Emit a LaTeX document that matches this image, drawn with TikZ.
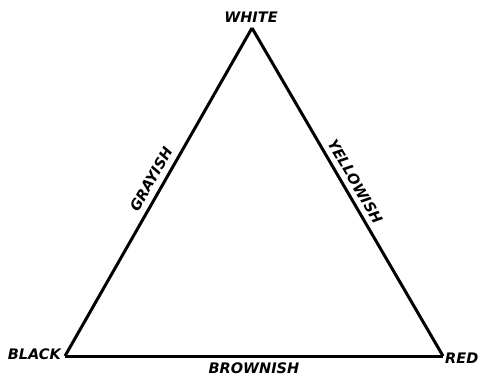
\documentclass[tikz,border=0pt]{standalone}
\usepackage{fontspec}
\setmainfont{DejaVu Sans}
\begin{document}
\begin{tikzpicture}[x=1pt,y=-1pt,
  edge/.style={line width=3pt, line join=miter},
  lbl/.style={font=\fontsize{14.5}{14.5}\selectfont\bfseries\itshape, inner sep=0pt},
  elbl/.style={lbl, sloped}]
\useasboundingbox (0,0) rectangle (486,374);
\coordinate (W) at (252,28);
\coordinate (B) at (65,356);
\coordinate (R) at (443,356);
\draw[edge] (B) -- (W) node[elbl, pos=0.52, above=5.5pt] (gray) {GRAYISH};
\draw[edge] (W) -- (R) node[elbl, pos=0.487, above=5.5pt] (yellow) {YELLOWISH};
\draw[edge] (B) -- (R) node[lbl, pos=0.5, below=5pt] (brown) {BROWNISH};
\node[lbl, anchor=base] (white) at (251,23) {WHITE};
\node[lbl, anchor=base east] (black) at (61,359) {BLACK};
\node[lbl, anchor=base west] (red) at (445,363) {RED};
\end{tikzpicture}
\end{document}
